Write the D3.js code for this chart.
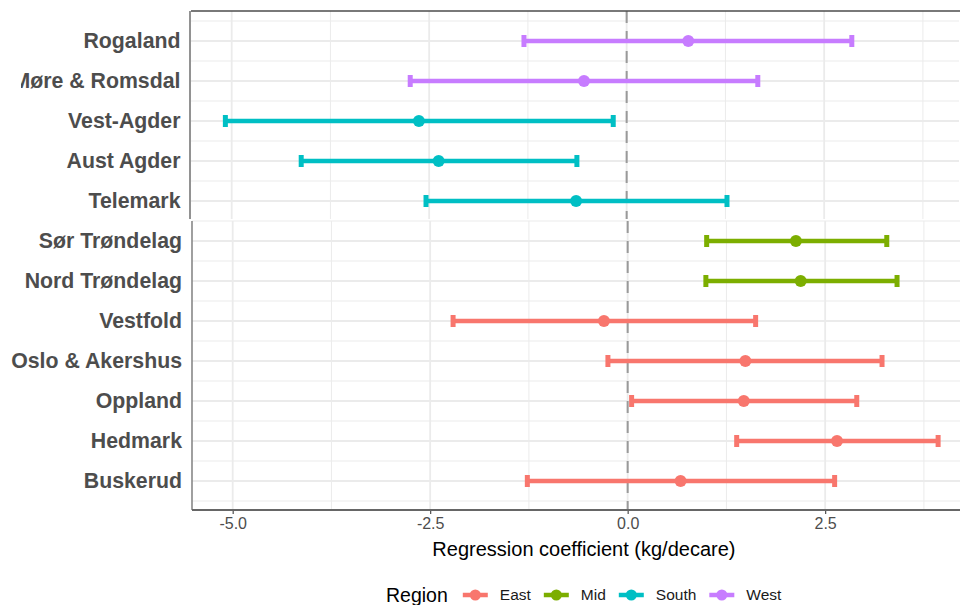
<!DOCTYPE html>
<html>
<head>
<meta charset="utf-8">
<script src="https://cdn.jsdelivr.net/npm/d3@7"></script>
<style>
  html, body { margin: 0; padding: 0; background: #fff; }
  svg { display: block; font-family: "Liberation Sans", Arial, sans-serif; }
</style>
</head>
<body>
<svg id="chart" width="960" height="605"></svg>
<script>
// County-level regression coefficients with confidence intervals
const provinces = ["Rogaland", "Møre & Romsdal", "Vest-Agder", "Aust Agder", "Telemark",
  "Sør Trøndelag", "Nord Trøndelag", "Vestfold", "Oslo & Akershus", "Oppland", "Hedmark", "Buskerud"];
const provinceRegion = ["West", "West", "South", "South", "South",
  "Mid", "Mid", "East", "East", "East", "East", "East"];
const estimates = [0.78, -0.54, -2.63, -2.38, -0.64, 2.13, 2.19, -0.30, 1.49, 1.47, 2.65, 0.67];
const lowerCI   = [-1.30, -2.74, -5.08, -4.12, -2.54, 1.00, 0.99, -2.21, -0.25, 0.05, 1.38, -1.27];
const upperCI   = [2.85, 1.66, -0.17, -0.63, 1.27, 3.28, 3.41, 1.62, 3.22, 2.90, 3.93, 2.62];

const regionNames  = ["East", "Mid", "South", "West"];
const regionColors = ["#F8766D", "#7CAE00", "#00BFC4", "#C77CFF"];

const xMajorTicks = [-5, -2.5, 0, 2.5];
const xMinorTicks = [-3.75, -1.25, 1.25, 3.75];
const xTickLabels = ["-5.0", "-2.5", "0.0", "2.5"];

const topPanelCount = 5; // first five counties sit in the upper panel

const rows = provinces.map((p, i) => ({
  name: p, region: provinceRegion[i], est: estimates[i], lo: lowerCI[i], hi: upperCI[i], idx: i
}));

const svg = d3.select("#chart");
const color = d3.scaleOrdinal().domain(regionNames).range(regionColors);

const x = d3.scaleLinear().domain([-5.515, 4.207]).range([192, 960]);
const y = d3.scalePoint().domain(provinces).range([41, 481]);
const step = y.step();

const gridCol = "#ebebeb";

svg.append("defs").append("clipPath").attr("id", "topClip")
  .append("rect").attr("x", 21).attr("y", 0).attr("width", 960).attr("height", 220);

function drawPanel(g, subset, yTop, yBottom, opts) {
  // horizontal grid: major at rows, minor between rows
  const firstY = y(subset[0].name) - step / 2;
  const minorYs = d3.range(subset.length + 1).map(k => firstY + k * step)
    .filter(v => v >= yTop && v <= yBottom);
  g.selectAll(null).data(minorYs).join("line")
    .attr("x1", x.range()[0]).attr("x2", 960)
    .attr("y1", d => d).attr("y2", d => d)
    .attr("stroke", gridCol).attr("stroke-width", 1);
  g.selectAll(null).data(subset).join("line")
    .attr("x1", x.range()[0]).attr("x2", 960)
    .attr("y1", d => y(d.name)).attr("y2", d => y(d.name))
    .attr("stroke", gridCol).attr("stroke-width", 1.8);
  // vertical grid
  g.selectAll(null).data(xMinorTicks).join("line")
    .attr("x1", d => x(d)).attr("x2", d => x(d))
    .attr("y1", yTop).attr("y2", yBottom)
    .attr("stroke", gridCol).attr("stroke-width", 1);
  g.selectAll(null).data(xMajorTicks).join("line")
    .attr("x1", d => x(d)).attr("x2", d => x(d))
    .attr("y1", yTop).attr("y2", yBottom)
    .attr("stroke", gridCol).attr("stroke-width", 1.8);
  // zero reference
  g.append("line")
    .attr("x1", x(0)).attr("x2", x(0))
    .attr("y1", yTop).attr("y2", yBottom)
    .attr("stroke", "#9a9a9a").attr("stroke-width", 2)
    .attr("stroke-dasharray", "12,8");
  // error bars
  const bars = g.selectAll(null).data(subset).join("g");
  bars.append("line")
    .attr("x1", d => x(d.lo)).attr("x2", d => x(d.hi))
    .attr("y1", d => y(d.name)).attr("y2", d => y(d.name))
    .attr("stroke", d => color(d.region)).attr("stroke-width", 4.5);
  ["lo", "hi"].forEach(k => {
    bars.append("line")
      .attr("x1", d => x(d[k])).attr("x2", d => x(d[k]))
      .attr("y1", d => y(d.name) - 6).attr("y2", d => y(d.name) + 6)
      .attr("stroke", d => color(d.region)).attr("stroke-width", 5);
  });
  bars.append("circle")
    .attr("cx", d => x(d.est)).attr("cy", d => y(d.name)).attr("r", 6)
    .attr("fill", d => color(d.region));
  // county labels
  g.selectAll(null).data(subset).join("text")
    .attr("x", opts.labelX).attr("y", d => y(d.name))
    .attr("dy", "0.33em").attr("text-anchor", "end")
    .attr("font-size", 21.3).attr("font-weight", "bold").attr("fill", "#4d4d4d")
    .text(d => d.name);
}

// upper panel (framed, slightly offset)
const topG = svg.append("g").attr("clip-path", "url(#topClip)")
  .append("g").attr("transform", "translate(-1,0)");
drawPanel(topG, rows.slice(0, topPanelCount), 11, 219, { labelX: 181.5 });
topG.append("line").attr("x1", x.range()[0]).attr("x2", 970).attr("y1", 11).attr("y2", 11)
  .attr("stroke", "#4d4d4d").attr("stroke-width", 1.6);
topG.append("line").attr("x1", x.range()[0] - 1).attr("x2", x.range()[0] - 1).attr("y1", 11).attr("y2", 219)
  .attr("stroke", "#777").attr("stroke-width", 1.6);

// lower panel
const botG = svg.append("g");
drawPanel(botG, rows.slice(topPanelCount), 221, 510, { labelX: 182 });
botG.append("line").attr("x1", x.range()[0]).attr("x2", x.range()[0]).attr("y1", 221).attr("y2", 510)
  .attr("stroke", "#888").attr("stroke-width", 1.6);

// x axis
const xAxis = d3.axisBottom(x).tickValues(xMajorTicks)
  .tickFormat((d, i) => xTickLabels[i]).tickSize(4).tickPadding(4);
const axG = svg.append("g").attr("transform", "translate(0,510)").call(xAxis);
axG.select(".domain").remove();
axG.selectAll(".tick line").attr("stroke", "#4d4d4d").attr("stroke-width", 1.2);
axG.selectAll(".tick text").attr("font-size", 16).attr("fill", "#4d4d4d")
  .attr("font-family", "Liberation Sans, Arial, sans-serif");
svg.append("line").attr("x1", x.range()[0]).attr("x2", 960).attr("y1", 510).attr("y2", 510)
  .attr("stroke", "#666").attr("stroke-width", 1.8);

svg.append("text").attr("x", (x(-5) + x(2.5)) / 2 + 55).attr("y", 556)
  .attr("text-anchor", "middle").attr("font-size", 20).attr("fill", "#000")
  .text("Regression coefficient (kg/decare)");

// legend
const leg = svg.append("g").attr("transform", "translate(386,595)");
const title = leg.append("text").attr("x", 0).attr("y", 0).attr("dy", "0.35em")
  .attr("font-size", 19.5).attr("fill", "#000").text("Region");
let cursor = title.node().getComputedTextLength() + 15;
regionNames.forEach((r, i) => {
  const k = leg.append("g").attr("transform", `translate(${cursor},0)`);
  k.append("line").attr("x1", 0).attr("x2", 25).attr("y1", 0).attr("y2", 0)
    .attr("stroke", regionColors[i]).attr("stroke-width", 4.5);
  k.append("circle").attr("cx", 12.5).attr("cy", 0).attr("r", 5.5).attr("fill", regionColors[i]);
  const t = k.append("text").attr("x", 37).attr("y", 0).attr("dy", "0.35em")
    .attr("font-size", 15.5).attr("fill", "#1a1a1a").text(r);
  cursor += 37 + t.node().getComputedTextLength() + 13;
});
</script>
</body>
</html>
